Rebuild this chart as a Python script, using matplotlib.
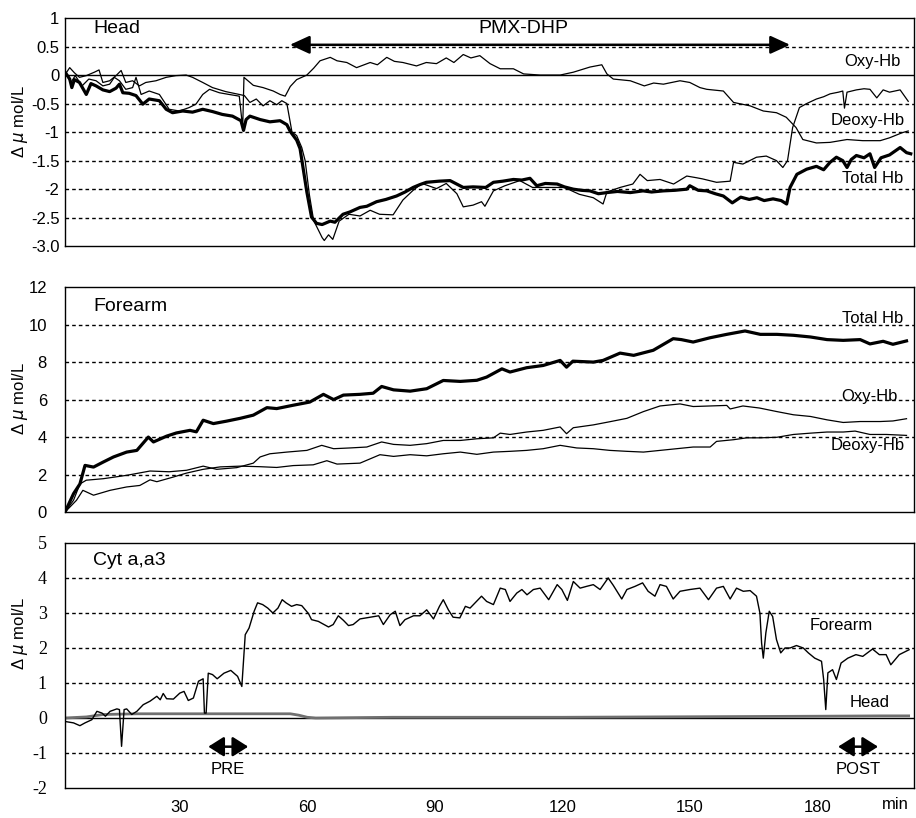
import matplotlib
matplotlib.use("Agg")
import matplotlib.pyplot as plt

plt.rcParams['font.family'] = ['Liberation Sans', 'DejaVu Sans']
plt.rcParams['axes.unicode_minus'] = False

# ---------------- Head (NIRS Hb) ----------------
head_total_t = [3.2, 4.1, 4.6, 5.2, 6.4, 8.0, 9.1, 10.3, 11.9, 13.5, 15.0, 15.8, 16.6, 18.1, 19.7,
                21.3, 22.8, 25.2, 26.8, 28.3, 30.7, 33.0, 35.4, 37.7, 40.0, 42.4, 44.4, 45.0, 45.6,
                46.5, 48.9, 51.2, 53.6, 55.2, 56.0, 57.5, 58.3, 59.9, 61.0, 62.2, 63.5, 65.4, 66.5,
                68.4, 70.0, 72.4, 74.0, 76.3, 78.5, 81.0, 83.0, 84.9, 86.5, 88.0, 91.0, 93.6, 96.7,
                99.0, 102.0, 103.8, 106.0, 108.5, 110.5, 112.4, 114.0, 116.0, 118.8, 120.5, 122.6,
                124.5, 126.5, 128.5, 130.5, 133.0, 136.0, 139.0, 141.0, 143.8, 146.5, 149.3, 150.0,
                152.0, 154.0, 156.0, 157.9, 160.0, 162.0, 164.0, 165.8, 167.5, 169.6, 171.5, 172.8,
                173.6, 175.2, 177.5, 179.8, 181.5, 183.0, 184.5, 186.0, 187.0, 188.0, 189.2, 191.0,
                192.4, 193.5, 195.0, 197.0, 199.5, 201.0, 202.0]
head_total = [0.03, -0.07, -0.22, -0.08, -0.13, -0.34, -0.15, -0.19, -0.26, -0.29, -0.23, -0.16,
              -0.31, -0.32, -0.36, -0.51, -0.42, -0.45, -0.60, -0.66, -0.63, -0.65, -0.60, -0.64,
              -0.69, -0.72, -0.80, -0.97, -0.78, -0.72, -0.78, -0.82, -0.80, -0.87, -0.99, -1.14,
              -1.29, -2.05, -2.49, -2.60, -2.62, -2.56, -2.58, -2.44, -2.40, -2.32, -2.30, -2.22,
              -2.18, -2.12, -2.05, -1.97, -1.92, -1.88, -1.86, -1.85, -1.97, -1.96, -1.97, -1.88,
              -1.86, -1.83, -1.84, -1.81, -1.94, -1.90, -1.91, -1.96, -2.00, -2.02, -2.03, -2.08,
              -2.06, -2.04, -2.06, -2.03, -2.05, -2.03, -2.02, -2.00, -1.94, -2.02, -2.03, -2.08,
              -2.12, -2.24, -2.14, -2.18, -2.15, -2.20, -2.17, -2.20, -2.26, -1.97, -1.74, -1.65,
              -1.60, -1.66, -1.53, -1.44, -1.50, -1.62, -1.48, -1.41, -1.45, -1.38, -1.62, -1.45,
              -1.40, -1.27, -1.36, -1.38]

head_oxy_t = [3.2, 4.1, 5.2, 6.4, 8.0, 9.9, 11.0, 11.9, 13.5, 15.0, 16.2, 17.3, 18.9, 20.5, 22.0,
              24.4, 26.8, 29.1, 31.5, 33.0, 35.4, 37.7, 40.8, 44.0, 45.2, 46.5, 48.0, 49.6, 51.2,
              52.8, 54.0, 55.2, 56.4, 57.5, 58.7, 59.5, 60.5, 61.5, 62.5, 63.5, 64.0, 65.0, 66.0,
              67.5, 69.8, 72.4, 74.8, 77.0, 80.2, 82.5, 84.9, 87.0, 90.4, 92.7, 95.2, 96.7, 99.0,
              101.0, 101.8, 103.8, 106.5, 110.0, 113.0, 116.5, 120.5, 124.0, 127.3, 129.6, 130.5,
              133.6, 136.6, 138.3, 140.0, 143.0, 146.2, 149.3, 151.6, 153.0, 156.3, 159.5, 160.3,
              162.5, 165.7, 168.0, 170.4, 171.9, 173.0, 174.2, 175.8, 177.5, 179.8, 181.5, 183.0,
              185.0, 186.0, 186.4, 187.0, 189.2, 191.0, 192.4, 194.0, 195.5, 197.0, 199.5, 201.4]
head_oxy = [0.03, 0.13, 0.04, -0.04, -0.01, 0.05, 0.09, -0.13, -0.10, -0.01, 0.08, -0.13, -0.10,
            -0.19, -0.13, -0.10, -0.04, -0.01, 0.00, -0.04, -0.13, -0.22, -0.29, -0.34, -0.36,
            -0.48, -0.42, -0.54, -0.45, -0.52, -0.45, -0.50, -1.00, -1.06, -1.27, -1.50, -2.10,
            -2.55, -2.70, -2.85, -2.90, -2.80, -2.88, -2.56, -2.44, -2.47, -2.37, -2.44, -2.45,
            -2.19, -2.02, -1.90, -1.99, -1.90, -2.08, -2.31, -2.28, -2.22, -2.30, -2.03, -1.94,
            -1.85, -1.97, -1.97, -1.97, -2.09, -2.15, -2.26, -2.05, -1.97, -1.91, -1.74, -1.85,
            -1.83, -1.91, -1.77, -1.80, -1.82, -1.88, -1.86, -1.53, -1.56, -1.44, -1.42, -1.50,
            -1.62, -1.50, -0.92, -0.57, -0.50, -0.42, -0.38, -0.33, -0.30, -0.28, -0.58, -0.30,
            -0.26, -0.24, -0.25, -0.40, -0.26, -0.30, -0.26, -0.46]

head_deoxy_t = [3.2, 4.4, 5.4, 7.0, 8.6, 10.3, 11.9, 13.5, 14.6, 15.8, 17.3, 18.9, 19.7, 20.9, 22.8,
                25.2, 27.5, 29.9, 32.2, 33.8, 35.4, 37.0, 39.3, 41.6, 44.0, 44.8, 45.1, 47.3, 49.6,
                52.0, 53.6, 54.8, 56.0, 57.5, 59.9, 61.5, 63.0, 65.4, 67.0, 69.3, 71.6, 74.8, 76.5,
                78.7, 80.5, 82.5, 85.7, 88.0, 90.4, 92.7, 94.5, 96.7, 98.5, 100.6, 103.0, 105.4,
                108.5, 110.9, 114.8, 119.5, 122.6, 126.5, 129.3, 130.5, 132.0, 136.0, 139.3, 141.5,
                143.8, 147.7, 150.0, 152.4, 154.0, 157.9, 160.3, 164.2, 167.3, 170.4, 172.7, 175.0,
                176.6, 179.8, 183.0, 187.0, 190.7, 194.8, 197.0, 200.0, 201.4]
head_deoxy = [0.02, -0.13, -0.01, -0.19, -0.07, -0.10, -0.19, -0.16, -0.04, -0.10, -0.25, -0.22,
              -0.04, -0.34, -0.28, -0.34, -0.60, -0.63, -0.57, -0.51, -0.34, -0.25, -0.31, -0.34,
              -0.37, -0.93, -0.04, -0.18, -0.22, -0.28, -0.34, -0.37, -0.20, -0.08, 0.00, 0.12,
              0.25, 0.31, 0.25, 0.22, 0.13, 0.22, 0.18, 0.31, 0.24, 0.22, 0.16, 0.22, 0.20, 0.30,
              0.22, 0.36, 0.30, 0.34, 0.20, 0.11, 0.11, 0.02, 0.00, 0.00, 0.05, 0.14, 0.18, 0.02,
              -0.07, -0.10, -0.19, -0.14, -0.16, -0.10, -0.13, -0.22, -0.25, -0.28, -0.48, -0.54,
              -0.63, -0.66, -0.74, -0.92, -1.13, -1.19, -1.18, -1.13, -1.15, -1.15, -1.10, -1.01,
              -0.98]

# ---------------- Forearm (NIRS Hb) ----------------
arm_total_t = [3, 5, 6.5, 7.7, 9.7, 12, 14.4, 17.5, 19.9, 22.6, 23.8, 26.9, 29.2, 32.4, 33.9, 35.5,
               37.9, 41, 44.2, 47.3, 50.5, 52.8, 56.7, 60.6, 63.8, 66.2, 68.5, 72.4, 75.5, 77.5,
               80.3, 84.2, 88.1, 92, 96, 99.9, 102.2, 105.8, 107.7, 111.6, 115.5, 119.5, 121,
               122.5, 127.3, 129.6, 133.6, 136.8, 141.4, 146.1, 148, 150.8, 154.8, 158.7, 163,
               166.6, 170.5, 174.4, 178.4, 182.3, 186.1, 190.1, 192.4, 195.5, 197.8, 201]
arm_total = [0.0, 0.98, 1.5, 2.49, 2.40, 2.67, 2.94, 3.20, 3.29, 4.00, 3.74, 4.05, 4.22, 4.36,
             4.28, 4.90, 4.72, 4.85, 5.00, 5.17, 5.57, 5.52, 5.70, 5.87, 6.28, 6.00, 6.24, 6.28,
             6.34, 6.70, 6.52, 6.45, 6.58, 7.02, 6.97, 7.03, 7.20, 7.64, 7.47, 7.70, 7.82, 8.09,
             7.73, 8.05, 8.00, 8.09, 8.48, 8.36, 8.63, 9.25, 9.20, 9.07, 9.30, 9.48, 9.66, 9.48,
             9.48, 9.43, 9.34, 9.20, 9.16, 9.20, 8.97, 9.11, 8.95, 9.13]

arm_oxy_t = [3, 5, 6.5, 8, 12, 17.5, 23, 27.5, 31.6, 35.5, 38.7, 43.4, 47.3, 48.9, 51.2, 55.2,
             59.9, 63.4, 66.2, 70, 74, 77.5, 80.3, 84.2, 88.1, 92, 96, 99.9, 103.8, 105.4, 107.7,
             111.6, 115.5, 119.5, 121, 122.6, 127.3, 131.2, 135.2, 139.1, 143, 147.7, 150.8,
             154.8, 158.7, 159.5, 162.5, 166.4, 170.5, 174.4, 178.4, 182.3, 186.1, 190.1, 194.8,
             197.8, 201]
arm_oxy = [0.0, 0.63, 1.5, 1.70, 1.78, 1.96, 2.19, 2.15, 2.23, 2.45, 2.28, 2.37, 2.61, 2.94, 3.11,
           3.20, 3.29, 3.56, 3.38, 3.42, 3.47, 3.74, 3.61, 3.56, 3.65, 3.82, 3.82, 3.91, 3.96,
           4.21, 4.14, 4.27, 4.36, 4.54, 4.18, 4.50, 4.65, 4.82, 5.00, 5.36, 5.66, 5.77, 5.63,
           5.66, 5.69, 5.50, 5.66, 5.55, 5.36, 5.19, 5.10, 4.92, 4.78, 4.83, 4.83, 4.86, 4.98]

arm_deoxy_t = [3, 5.7, 7.2, 9.7, 13.6, 17.5, 20.6, 23, 24.6, 28.5, 31.6, 35.5, 39.5, 44.2, 48.9,
               52.8, 56.7, 61.4, 64.6, 67, 72.4, 77.1, 80.3, 84.2, 88.1, 92, 96, 99.9, 103.8,
               107.7, 111.6, 115.5, 119.5, 123.4, 127.3, 131.2, 135.2, 139.1, 143, 146.9, 150.8,
               154.8, 156.3, 160.3, 163.4, 166.5, 170.5, 174.4, 178.4, 182.3, 186.1, 188.9, 192.4,
               196.3, 201]
arm_deoxy = [0.0, 0.63, 1.16, 0.90, 1.16, 1.34, 1.42, 1.72, 1.62, 1.87, 2.08, 2.28, 2.41, 2.45,
             2.42, 2.38, 2.48, 2.52, 2.74, 2.56, 2.61, 3.06, 2.97, 3.06, 3.00, 3.11, 3.20, 3.08,
             3.20, 3.24, 3.29, 3.38, 3.56, 3.42, 3.38, 3.29, 3.24, 3.20, 3.29, 3.38, 3.47, 3.47,
             3.77, 3.86, 3.96, 3.96, 3.99, 4.14, 4.21, 4.27, 4.27, 4.32, 4.14, 4.14, 4.09]

# ---------------- Cyt a,a3 ----------------
cyt_arm_t = [3, 5, 6.5, 7.7, 9.3, 10.5, 11.7, 12.5, 13.6, 15.2, 15.8, 16.3, 16.9, 17.5, 18.7,
             19.9, 21.4, 23.0, 24.6, 25.4, 26.1, 26.9, 28.5, 30.0, 31.0, 32.0, 33.2, 34.4, 35.5,
             35.8, 36.2, 36.7, 37.7, 38.8, 40.4, 42.0, 43.6, 44.6, 45.4, 46.3, 47.5, 48.3, 49.5,
             50.7, 51.9, 53.1, 54.1, 55.0, 56.3, 57.5, 58.7, 60.3, 61.0, 62.6, 65.0, 66.1, 67.3,
             68.5, 69.7, 70.8, 72.4, 74.8, 76.8, 77.9, 79.5, 80.7, 81.8, 83.0, 85.0, 86.5, 88.1,
             89.7, 91.1, 92.0, 93.2, 94.3, 95.9, 97.2, 98.3, 99.5, 101.0, 102.2, 103.8, 105.4,
             106.6, 107.7, 109.3, 110.5, 111.7, 113.2, 114.8, 116.8, 118.8, 119.9, 121.2, 122.6,
             124.2, 125.7, 127.3, 128.9, 130.8, 132.0, 134.0, 135.2, 137.1, 138.9, 140.2, 141.8,
             143.0, 144.5, 146.1, 147.7, 150.0, 152.4, 154.4, 156.3, 157.9, 159.5, 161.0, 162.6,
             164.2, 165.7, 166.5, 166.9, 167.3, 167.9, 168.7, 169.5, 170.4, 171.4, 172.4, 173.6,
             175.1, 176.7, 177.9, 179.4, 181.0, 181.5, 182.0, 182.5, 183.6, 184.5, 185.6, 187.2,
             189.1, 190.7, 193.0, 194.6, 196.2, 197.3, 199.3, 201.6]
cyt_arm = [-0.10, -0.14, -0.22, -0.14, -0.05, 0.19, 0.14, 0.05, 0.19, 0.26, 0.24, -0.81, 0.24,
           0.26, 0.10, 0.19, 0.38, 0.48, 0.62, 0.52, 0.70, 0.55, 0.54, 0.71, 0.76, 0.50, 0.57,
           1.05, 1.12, 0.14, 0.14, 1.28, 1.24, 1.12, 1.28, 1.36, 1.19, 0.90, 2.38, 2.57, 3.05,
           3.29, 3.24, 3.14, 3.00, 3.14, 3.38, 3.29, 3.19, 3.24, 3.21, 2.98, 2.81, 2.76, 2.60,
           2.67, 2.92, 2.79, 2.64, 2.67, 2.83, 2.88, 2.92, 2.67, 2.95, 3.05, 2.64, 2.81, 2.92,
           2.92, 3.09, 2.83, 3.19, 3.38, 3.09, 2.88, 2.86, 3.19, 3.14, 3.29, 3.48, 3.33, 3.24,
           3.71, 3.67, 3.33, 3.57, 3.67, 3.52, 3.67, 3.71, 3.38, 3.81, 3.67, 3.36, 3.90, 3.71,
           3.76, 3.81, 3.67, 4.00, 3.79, 3.40, 3.67, 3.76, 3.86, 3.62, 3.48, 3.81, 3.76, 3.40,
           3.62, 3.67, 3.71, 3.38, 3.71, 3.76, 3.40, 3.71, 3.62, 3.64, 3.48, 3.00, 2.14, 1.71,
           2.43, 3.05, 2.90, 2.24, 1.86, 2.00, 2.00, 2.07, 2.00, 1.86, 1.71, 1.62, 1.10, 0.24,
           1.29, 1.38, 1.10, 1.57, 1.71, 1.81, 1.76, 1.97, 1.81, 1.81, 1.52, 1.81, 1.95]

cyt_head_t = [3, 8, 12, 20, 30, 40, 50, 56, 58, 60, 62, 80, 100, 120, 140, 160, 180, 195, 201.5]
cyt_head = [0.0, 0.03, 0.10, 0.12, 0.12, 0.12, 0.12, 0.12, 0.08, 0.02, 0.0, 0.02, 0.02, 0.02,
            0.03, 0.04, 0.05, 0.06, 0.06]

xticks = [30, 60, 90, 120, 150, 180]
head_yticks = [1, 0.5, 0, -0.5, -1, -1.5, -2, -2.5, -3]
head_ylabels = ["1", "0.5", "0", "-0.5", "-1", "-1.5", "-2", "-2.5", "-3.0"]
arm_yticks = [0, 2, 4, 6, 8, 10, 12]
cyt_yticks = [5, 4, 3, 2, 1, 0, -1, -2]

THIN = 0.9
THICK = 2.3
DASH = (0, (2.6, 2.2))
XMIN, XMAX = 3, 202.8

fig = plt.figure(figsize=(9.16, 8.18), dpi=100)
ax1 = fig.add_axes([0.071, 0.699, 0.927, 0.279])
ax2 = fig.add_axes([0.071, 0.374, 0.927, 0.275])
ax3 = fig.add_axes([0.071, 0.0367, 0.927, 0.2995])

for ax in (ax1, ax2, ax3):
    ax.set_xlim(XMIN, XMAX)
    ax.set_xticks(xticks)
    ax.tick_params(length=0, labelsize=12)
    for s in ax.spines.values():
        s.set_linewidth(1.0)
ax1.set_xticklabels([])
ax2.set_xticklabels([])

# Head
ax1.set_ylim(-3, 1)
ax1.set_yticks(head_yticks)
ax1.set_yticklabels(head_ylabels)
ax1.tick_params(axis='y', pad=4)
for v in [0.5, -0.5, -1, -1.5, -2, -2.5]:
    ax1.axhline(v, color='k', lw=1.0, ls=DASH)
ax1.axhline(0, color='k', lw=1.0)
ax1.plot(head_oxy_t, head_oxy, color='k', lw=THIN)
ax1.plot(head_deoxy_t, head_deoxy, color='k', lw=THIN)
ax1.plot(head_total_t, head_total, color='k', lw=THICK)
ax1.text(0.033, 0.952, "Head", transform=ax1.transAxes, fontsize=14, va='center')
ax1.text(110.8, 0.81, "PMX-DHP", fontsize=14, ha='center', va='center')
ax1.annotate('', xy=(173.6, 0.53), xytext=(55.9, 0.53),
             arrowprops=dict(arrowstyle='<|-|>,head_length=1.2,head_width=0.55',
                             mutation_scale=10, lw=1.8, color='k', shrinkA=0, shrinkB=0))
ax1.text(199.5, 0.245, "Oxy-Hb", fontsize=12, ha='right', va='center')
ax1.text(200.5, -0.79, "Deoxy-Hb", fontsize=12, ha='right', va='center')
ax1.text(200.3, -1.82, "Total Hb", fontsize=12, ha='right', va='center')
ax1.set_ylabel("Δ $\\mu$ mol/L", fontsize=12)
ax1.yaxis.set_label_coords(-0.041, 0.548)

# Forearm
ax2.set_ylim(0, 12)
ax2.set_yticks(arm_yticks)
ax2.tick_params(axis='y', pad=13)
for v in [2, 4, 6, 8, 10]:
    ax2.axhline(v, color='k', lw=1.0, ls=DASH)
ax2.plot(arm_oxy_t, arm_oxy, color='k', lw=THIN)
ax2.plot(arm_deoxy_t, arm_deoxy, color='k', lw=THIN)
ax2.plot(arm_total_t, arm_total, color='k', lw=THICK)
ax2.text(0.033, 0.916, "Forearm", transform=ax2.transAxes, fontsize=14, va='center')
ax2.text(200.3, 10.33, "Total Hb", fontsize=12, ha='right', va='center')
ax2.text(198.8, 6.14, "Oxy-Hb", fontsize=12, ha='right', va='center')
ax2.text(200.7, 3.56, "Deoxy-Hb", fontsize=12, ha='right', va='center')
ax2.set_ylabel("Δ $\\mu$ mol/L", fontsize=12)
ax2.yaxis.set_label_coords(-0.041, 0.507)

# Cyt a,a3
ax3.set_ylim(-2, 5)
ax3.set_yticks(cyt_yticks)
ax3.set_yticklabels([str(v) for v in cyt_yticks], family='Liberation Serif', fontsize=13)
ax3.tick_params(axis='y', pad=13)
ax3.tick_params(axis='x', pad=9)
for v in [4, 3, 2, 1, -1]:
    ax3.axhline(v, color='k', lw=1.0, ls=DASH)
ax3.axhline(0, color='k', lw=1.0)
ax3.plot(cyt_head_t, cyt_head, color='#707070', lw=2.0)
ax3.plot(cyt_arm_t, cyt_arm, color='k', lw=1.0)
ax3.text(0.033, 0.927, "Cyt a,a3", transform=ax3.transAxes, fontsize=14, va='center')
ax3.text(193.1, 2.64, "Forearm", fontsize=12, ha='right', va='center')
ax3.text(197.1, 0.44, "Head", fontsize=12, ha='right', va='center')
for x0, x1, lab in [(36.7, 46.1, "PRE"), (184.9, 194.3, "POST")]:
    ax3.annotate('', xy=(x1, -0.82), xytext=(x0, -0.82),
                 arrowprops=dict(arrowstyle='<|-|>,head_length=0.95,head_width=0.6',
                                 mutation_scale=10, lw=1.8, color='k', shrinkA=0, shrinkB=0))
    ax3.text((x0 + x1) / 2, -1.48, lab, fontsize=12, ha='center', va='center')
ax3.text(198.3, -2.48, "min", fontsize=12, ha='center', va='center', clip_on=False)
ax3.set_ylabel("Δ $\\mu$ mol/L", fontsize=12)
ax3.yaxis.set_label_coords(-0.041, 0.63)

fig.savefig("out.png", dpi=100)
